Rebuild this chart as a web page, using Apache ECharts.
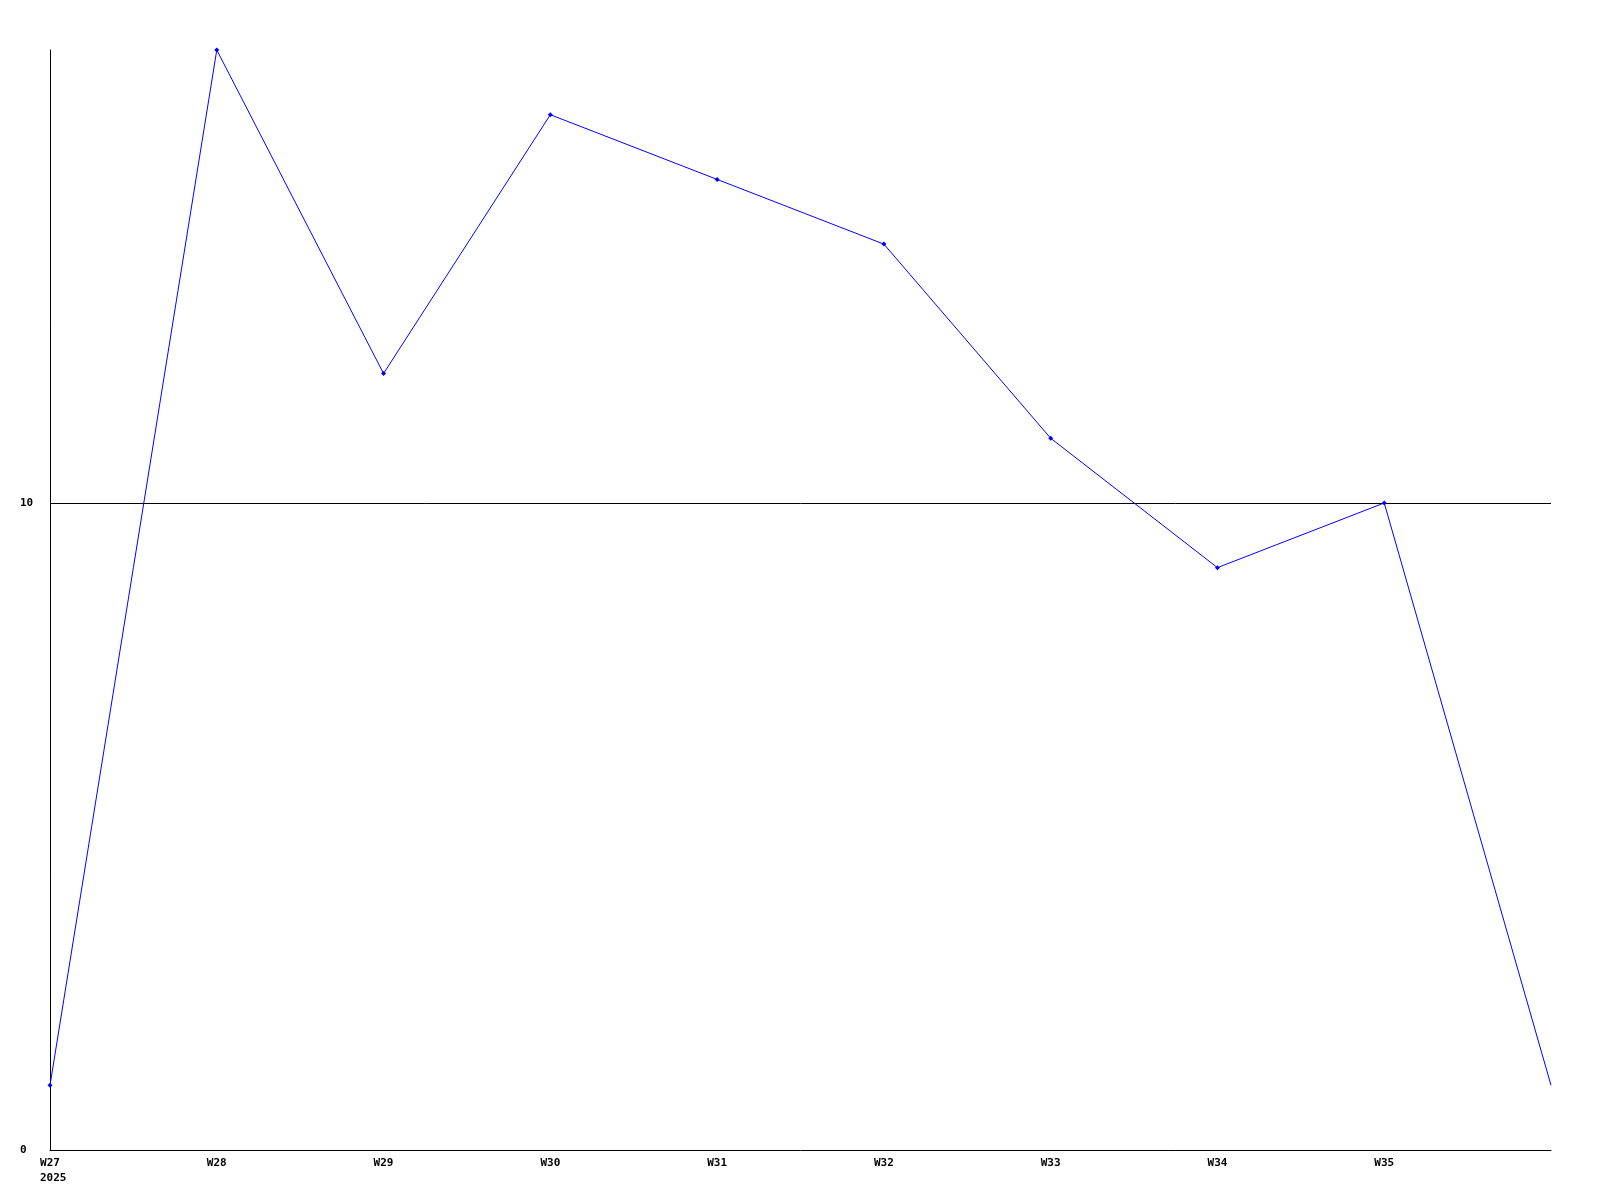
<!DOCTYPE html>
<html>
<head>
<meta charset="utf-8">
<script src="https://cdn.jsdelivr.net/npm/echarts@6/dist/echarts.min.js"></script>
<style>
  html, body { margin: 0; padding: 0; background: #fff; }
  #chart { width: 1600px; height: 1200px; }
</style>
</head>
<body>
<div id="chart"></div>
<script>
const weeks = ['W27', 'W28', 'W29', 'W30', 'W31', 'W32', 'W33', 'W34', 'W35', 'W36']
const values = [1, 17, 12, 16, 15, 14, 11, 9, 10, 1]
const yearLabel = '2025'

const FONT = 'DejaVu Sans Mono'

const chart = echarts.init(document.getElementById('chart'), null, { renderer: 'canvas' })

// the last point sits on the plot edge and has no marker
const seriesData = values.map((v, i) =>
  i === values.length - 1 ? { value: v, symbol: 'none' } : v
)

chart.setOption({
  backgroundColor: '#ffffff',
  animation: false,
  grid: { left: 50, right: 49, top: 50, bottom: 50 },
  xAxis: {
    type: 'category',
    data: weeks,
    boundaryGap: false,
    name: yearLabel,
    nameLocation: 'start',
    nameGap: 10,
    nameTextStyle: {
      color: '#000',
      fontFamily: FONT,
      fontWeight: 'bold',
      fontSize: 11,
      align: 'left',
      verticalAlign: 'top',
      padding: [23, 0, 0, 0]
    },
    axisLine: { lineStyle: { color: '#000', width: 1 } },
    axisTick: { show: false },
    axisLabel: {
      color: '#000',
      fontFamily: FONT,
      fontWeight: 'bold',
      fontSize: 11,
      margin: 8,
      interval: 0,
      formatter: (v, i) => (i === weeks.length - 1 ? '' : v)
    },
    splitLine: { show: false }
  },
  yAxis: {
    type: 'value',
    min: 0,
    max: 17,
    interval: 10,
    axisLine: { show: true, lineStyle: { color: '#000', width: 1 } },
    axisTick: { show: false },
    axisLabel: {
      color: '#000',
      fontFamily: FONT,
      fontWeight: 'bold',
      fontSize: 11,
      align: 'left',
      margin: 30,
      showMaxLabel: false
    },
    splitLine: {
      show: true,
      showMinLine: false,
      showMaxLine: false,
      lineStyle: { color: '#000', width: 1 }
    }
  },
  series: [
    {
      type: 'line',
      data: seriesData,
      symbol: 'diamond',
      symbolSize: 5,
      showAllSymbol: true,
      itemStyle: { color: '#0000ff' },
      lineStyle: { color: '#0000ff', width: 1 }
    }
  ]
})
</script>
</body>
</html>
